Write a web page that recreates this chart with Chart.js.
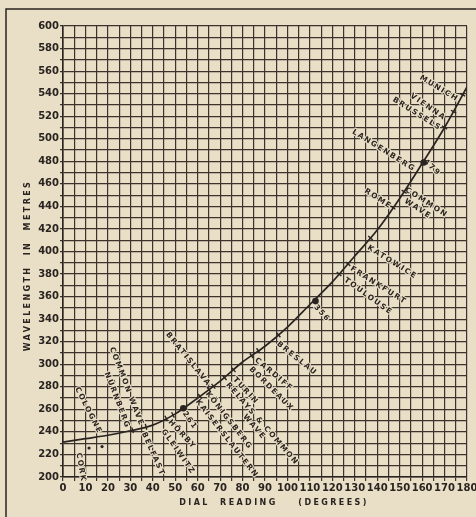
<!DOCTYPE html>
<html>
<head>
<meta charset="utf-8">
<script src="https://cdn.jsdelivr.net/npm/chart.js@4.4.0/dist/chart.umd.min.js"></script>
<style>
  html, body { margin: 0; padding: 0; background: #e9dec6; }
  #wrap { width: 476px; height: 517px; }
</style>
</head>
<body>
<div id="wrap"><canvas id="chart" width="476" height="517"></canvas></div>
<script>
// Calibration curve: dial reading (degrees) -> wavelength (metres)
const dialReadings = [0, 10, 20, 30, 40, 50, 60, 70, 80, 90, 100, 110, 120, 130, 140, 150, 160, 170, 180];
const wavelengths = [231, 234, 237, 241, 246, 256, 270, 285, 302, 316, 333, 353, 373, 396, 419, 447, 478, 510, 546];

// Calibration points marked with a dot and their wavelength
const calDial = [53.6, 112.5, 160.7];
const calMetres = [261, 356, 479];

// Station ticks along the curve
const stationDial = [31, 37, 46, 49, 61, 65, 67, 72, 76, 84, 87, 96, 123, 127, 137, 147, 152, 170, 174, 178];
const stationMetres = [241.5, 244.5, 252, 255, 271.5, 277.5, 280.5, 288, 295, 307.6, 312, 326, 380, 389, 412, 439, 453, 510, 524, 539];

// Stations below the scale (Cork, Cologne)
const offDial = [11.6, 17.4];
const offMetres = [225.7, 227];

// Tick labels
const xLabelStep = 10;
const yLabelStep = 20;

// Station names: text, dial, metres (start of text), slant in degrees
const stationLabels = [
  ['COLOGNE', 7.6, 280.7, 63],
  ['CORK', 8.5, 222, 80],
  ['COMMON WAVE', 23.2, 316, 69],
  ['NÜRNBERG', 20.9, 294, 69],
  ['BELFAST', 37.4, 240.8, 66],
  ['261', 55.3, 259.4, 55],
  ['HÖRBY', 48.6, 252, 47],
  ['GLEIWITZ', 45.9, 243.5, 55],
  ['BRATISLAVA', 47.7, 329.5, 51],
  ['KÖNIGSBERG', 65.5, 277, 52],
  ['KAISERSLAUTERN', 61, 270, 52],
  ['TURIN', 77.5, 289.6, 47],
  ['RELAYS & COMMON', 74.4, 285, 49],
  ['WAVE', 82, 256.8, 49],
  ['CARDIFF', 86.9, 307, 40],
  ['BORDEAUX', 84.7, 299, 45],
  ['BRESLAU', 96.7, 321.5, 39],
  ['356', 113.6, 354, 48],
  ['FRANKFURT', 129.2, 388, 32],
  ['TOULOUSE', 126.6, 378, 36],
  ['KATOWICE', 136.8, 406.7, 32],
  ['ROME', 135.5, 457, 33],
  ['COMMON', 153.7, 458, 33],
  ['WAVE', 153.3, 448, 33],
  ['LANGENBERG', 130, 509.5, 32],
  ['479', 162.2, 483, 43],
  ['BRUSSELS', 148, 538, 32],
  ['VIENNA', 156, 541.5, 35],
  ['MUNICH', 160, 557.5, 31],
];

const paper = '#e9dec6';
const ink = '#2a2420';
const gridInk = '#3b332c';

function zip(xs, ys) { return xs.map((x, i) => ({ x, y: ys[i] })); }

// Angle of a short tick crossing the curve at a given dial reading
function tickRotation(ctx) {
  const chart = ctx.chart;
  const raw = ctx.raw;
  if (!raw || !chart.scales.x) return 0;
  let i = 0;
  while (i < dialReadings.length - 2 && dialReadings[i + 1] < raw.x) i++;
  const xs = chart.scales.x, ys = chart.scales.y;
  const dx = xs.getPixelForValue(dialReadings[i + 1]) - xs.getPixelForValue(dialReadings[i]);
  const dy = ys.getPixelForValue(wavelengths[i]) - ys.getPixelForValue(wavelengths[i + 1]);
  return 90 - Math.atan2(dy, dx) * 180 / Math.PI;
}

const paperPlugin = {
  id: 'paper',
  beforeDraw(chart) {
    const { ctx, width, height } = chart;
    ctx.save();
    ctx.fillStyle = paper;
    ctx.fillRect(0, 0, width, height);
    ctx.strokeStyle = ink;
    ctx.lineWidth = 1.5;
    ctx.beginPath();
    ctx.moveTo(6, height);
    ctx.lineTo(6, 9);
    ctx.lineTo(width, 9);
    ctx.stroke();
    ctx.restore();
  },
  // station names go under the curve so the line stays unbroken
  beforeDatasetsDraw(chart) {
    const { ctx, scales: { x, y } } = chart;
    ctx.save();
    ctx.fillStyle = ink;
    ctx.strokeStyle = paper;
    ctx.lineWidth = 2.2;
    ctx.lineJoin = 'round';
    ctx.font = 'bold 7.5px "DejaVu Sans"';
    ctx.letterSpacing = '1.6px';
    ctx.textBaseline = 'top';
    ctx.textAlign = 'left';
    for (const [text, d, m, a] of stationLabels) {
      ctx.save();
      ctx.translate(x.getPixelForValue(d), y.getPixelForValue(m));
      ctx.rotate(a * Math.PI / 180);
      ctx.strokeText(text, 0, 0);
      ctx.fillText(text, 0, 0);
      ctx.restore();
    }
    ctx.restore();
  },
  afterDraw(chart) {
    const { ctx, chartArea } = chart;
    ctx.save();
    ctx.fillStyle = ink;
    ctx.font = 'bold 8px "DejaVu Sans"';
    ctx.letterSpacing = '2.4px';
    ctx.textAlign = 'center';
    ctx.textBaseline = 'middle';
    // y title
    ctx.save();
    ctx.translate(28, (chartArea.top + chartArea.bottom) / 2 + 14);
    ctx.rotate(-Math.PI / 2);
    ctx.fillText('WAVELENGTH  IN  METRES', 0, 0);
    ctx.restore();
    // x title
    ctx.fillText('DIAL  READING    (DEGREES)', (chartArea.left + chartArea.right) / 2 + 9, 503);
    ctx.restore();
  },
};

new Chart(document.getElementById('chart'), {
  type: 'scatter',
  data: {
    datasets: [
      {
        type: 'line',
        data: zip(dialReadings, wavelengths),
        borderColor: ink,
        borderWidth: 1.7,
        pointRadius: 0,
        cubicInterpolationMode: 'monotone',
        order: 3,
      },
      {
        data: zip(calDial, calMetres),
        pointRadius: 3.3,
        backgroundColor: ink,
        borderColor: ink,
        borderWidth: 0,
        order: 1,
      },
      {
        data: zip(stationDial, stationMetres),
        pointStyle: 'line',
        pointRadius: 3,
        rotation: tickRotation,
        borderColor: ink,
        borderWidth: 1.4,
        order: 2,
      },
      {
        data: zip(offDial, offMetres),
        pointRadius: 1.6,
        backgroundColor: ink,
        borderWidth: 0,
        order: 2,
      },
    ],
  },
  plugins: [paperPlugin],
  options: {
    responsive: false,
    animation: false,
    events: [],
    layout: { padding: { top: 26, right: 9, left: 0, bottom: 0 } },
    plugins: { legend: { display: false }, tooltip: { enabled: false } },
    scales: {
      x: {
        type: 'linear',
        min: 0,
        max: 180,
        afterFit(scale) { scale.height = 40; scale.paddingLeft = 0; scale.paddingRight = 0; },
        ticks: {
          stepSize: 5,
          autoSkip: false,
          maxRotation: 0,
          padding: 1,
          color: ink,
          font: { family: 'DejaVu Sans', size: 10, weight: 'bold' },
          callback: v => (v % xLabelStep === 0 ? String(v) : ''),
        },
        grid: { color: gridInk, lineWidth: 1.2, tickLength: 4 },
        border: { color: ink, width: 1.6 },
      },
      y: {
        type: 'linear',
        min: 200,
        max: 600,
        afterFit(scale) { scale.width = 63; },
        ticks: {
          stepSize: 10,
          autoSkip: false,
          padding: 1,
          color: ink,
          font: { family: 'DejaVu Sans', size: 10, weight: 'bold' },
          callback: v => (v % yLabelStep === 0 ? String(v) : ''),
        },
        grid: { color: gridInk, lineWidth: 1.2, tickLength: 3 },
        border: { color: ink, width: 1.6 },
      },
    },
  },
});
</script>
</body>
</html>
